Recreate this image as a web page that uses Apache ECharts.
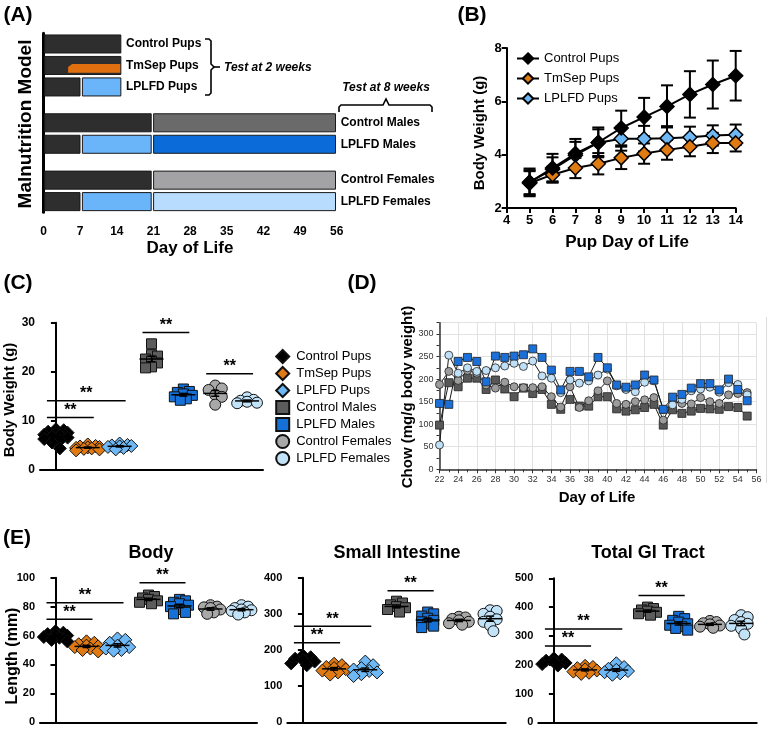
<!DOCTYPE html>
<html>
<head>
<meta charset="utf-8">
<script src="https://cdn.jsdelivr.net/npm/echarts@6/dist/echarts.min.js"></script>
<style>
  html, body { margin: 0; padding: 0; background: #fff; }
  #chart { width: 772px; height: 731px; }
</style>
</head>
<body>
<div id="chart"></div>
<script>
const FONT = '"Liberation Sans", Arial, sans-serif';

// ---- (A) study design timeline ----
const aRows = ['Control Pups', 'TmSep Pups', 'LPLFD Pups', 'Control Males', 'LPLFD Males', 'Control Females', 'LPLFD Females'];
const aRowGroup = [0, 0, 0, 1, 1, 2, 2];
// [row, fromDay, toDay, diet]
const aSegments = [
  [0, 0, 15, 'dam'],
  [1, 0, 15, 'dam'],
  [1, 4.7, 15, 'sep'],
  [2, 0, 7.2, 'dam'],
  [2, 7.2, 15, 'lplfd'],
  [3, 0, 20.8, 'dam'],
  [3, 20.8, 56, 'ctrlM'],
  [4, 0, 7.2, 'dam'],
  [4, 7.2, 20.8, 'lplfd'],
  [4, 20.8, 56, 'lplfdM'],
  [5, 0, 20.8, 'dam'],
  [5, 20.8, 56, 'ctrlF'],
  [6, 0, 7.2, 'dam'],
  [6, 7.2, 20.8, 'lplfd'],
  [6, 20.8, 56, 'lplfdF']
];

// ---- (B) pup body weight ----
const bDays = [5, 6, 7, 8, 9, 10, 11, 12, 13, 14];
const bControl = [2.96, 3.5, 4.04, 4.46, 5.0, 5.41, 5.81, 6.26, 6.63, 6.96];
const bControlErr = [0.52, 0.53, 0.55, 0.56, 0.65, 0.72, 0.79, 0.87, 0.9, 0.93];
const bTmSep = [2.93, 3.25, 3.5, 3.66, 3.88, 4.04, 4.18, 4.3, 4.44, 4.44];
const bTmSepErr = [0.45, 0.3, 0.38, 0.4, 0.42, 0.38, 0.37, 0.36, 0.38, 0.32];
const bLplfd = [2.97, 3.45, 3.98, 4.45, 4.6, 4.6, 4.62, 4.65, 4.72, 4.75];
const bLplfdErr = [0.45, 0.45, 0.5, 0.5, 0.45, 0.48, 0.45, 0.4, 0.38, 0.38];

// ---- groups used in (C) and (E) ----
const groups = ['Control Pups', 'TmSep Pups', 'LPLFD Pups', 'Control Males', 'LPLFD Males', 'Control Females', 'LPLFD Females'];

// ---- (C) body weight at test ----
const cWeight = [
  [8.3, 8.1, 7.8, 7.6, 7.4, 7.2, 7.0, 6.8, 6.6, 6.3, 6.0, 5.6, 4.4],
  [5.2, 4.9, 4.8, 4.7, 4.6, 4.5, 4.4, 4.3, 4.2, 4.0],
  [5.4, 5.1, 5.0, 4.9, 4.8, 4.7, 4.5, 4.2],
  [25.7, 23.5, 23.2, 22.6, 22.2, 21.8, 21.0, 20.8],
  [16.5, 16.0, 15.8, 15.5, 15.2, 14.9, 14.5, 14.2],
  [17.2, 16.6, 16.3, 15.3, 14.9, 13.3],
  [14.8, 14.3, 14.1, 13.9, 13.7, 13.6]
];
const cSig = [[0, 1, 10.7], [0, 2, 14.1], [3, 4, 28.0], [5, 6, 19.6]];

// ---- (D) chow intake ----
const dDays = [22, 23, 24, 25, 26, 27, 28, 29, 30, 31, 32, 33, 34, 35, 36, 37, 38, 39, 40, 41, 42, 43, 44, 45, 46, 47, 48, 49, 50, 51, 52, 53, 54, 55];
const dControlMales = [98, 192, 183, 202, 202, 177, 198, 178, 161, 180, 168, 177, 144, 133, 155, 140, 140, 161, 161, 134, 129, 132, 137, 144, 98, 132, 124, 129, 135, 134, 133, 139, 137, 118];
const dControlFemales = [188, 217, 197, 219, 213, 187, 180, 193, 183, 181, 181, 183, 161, 138, 183, 137, 152, 174, 196, 146, 144, 150, 154, 159, 109, 150, 146, 145, 159, 150, 146, 165, 168, 170];
const dLplfdFemales = [54, 253, 213, 225, 217, 219, 225, 229, 235, 228, 240, 207, 202, 170, 198, 191, 196, 209, 222, 185, 177, 172, 193, 196, 132, 143, 155, 174, 178, 182, 171, 192, 188, 165];
const dLplfdMales = [146, 144, 239, 248, 239, 194, 251, 248, 251, 254, 267, 248, 220, 176, 217, 217, 205, 248, 225, 187, 182, 187, 209, 198, 133, 160, 166, 180, 190, 190, 176, 200, 177, 152];

// ---- (E) lengths ----
const eBody = [
  [63, 62, 61, 60.5, 60, 59, 58.5, 57, 56],
  [56, 55, 54, 53, 52.5, 52, 51, 50, 49],
  [58, 57, 55, 53, 52, 51, 50, 49.5],
  [88, 87, 86, 85, 84, 83, 82],
  [85, 84, 83, 82, 81, 80, 78, 76, 75],
  [81, 80, 79.5, 79, 78, 76, 75],
  [81, 80, 79, 78, 77.5, 77, 76, 74.5]
];
const eBodySig = [[0, 1, 71.2], [0, 2, 82.7], [3, 4, 96.5]];
const eSmall = [
  [185, 180, 176, 172, 168, 163, 158],
  [162, 158, 153, 150, 147, 143, 138, 132],
  [168, 158, 150, 146, 142, 138, 133, 128],
  [335, 330, 325, 320, 317, 312, 305],
  [305, 300, 294, 288, 282, 278, 272, 266, 262],
  [292, 290, 286, 282, 278, 274, 270],
  [310, 308, 300, 292, 285, 278, 268, 252]
];
const eSmallSig = [[0, 1, 220], [0, 2, 266], [3, 4, 364]];
const eTotal = [
  [222, 218, 214, 210, 206, 202, 197],
  [196, 192, 188, 184, 180, 176, 172, 168],
  [205, 192, 186, 182, 178, 174, 170, 165],
  [400, 395, 390, 386, 382, 377, 372],
  [368, 360, 354, 348, 342, 337, 332, 326, 320],
  [352, 348, 344, 340, 336, 332, 328],
  [372, 365, 355, 348, 342, 335, 325, 305]
];
const eTotalSig = [[0, 1, 265], [0, 2, 324], [3, 4, 440]];

// ---- styles ----
const dietColor = {
  dam: '#2e2e2e', sep: '#e0700f', lplfd: '#6ab4fa', ctrlM: '#6a6a6a',
  lplfdM: '#0b6bd8', ctrlF: '#a3a3a6', lplfdF: '#b8dcfd'
};
const groupStyle = [
  { symbol: 'diamond', color: '#000000', size: 13 },
  { symbol: 'diamond', color: '#e07a12', size: 13 },
  { symbol: 'diamond', color: '#6db8f5', size: 13 },
  { symbol: 'rect', color: '#5c5c5c', size: 10 },
  { symbol: 'rect', color: '#1570d8', size: 10 },
  { symbol: 'circle', color: '#a8a8a8', size: 11 },
  { symbol: 'circle', color: '#c2e2f8', size: 11 }
];

const chart = echarts.init(document.getElementById('chart'));

// row slot on the timeline axis, with a wider gap between groups
const rowSlot = r => r + aRowGroup[r] * 0.67;
const lastSegOfRow = {};
aSegments.forEach((s, i) => { lastSegOfRow[s[0]] = i; });

function renderTimeline(params, api) {
  const seg = aSegments[params.dataIndex];
  const slot = api.value(1);
  const a = api.coord([api.value(0), slot]);
  const b = api.coord([api.value(2), slot]);
  const h = api.size([0, 0.84])[1];
  const top = a[1] - h / 2;
  const children = [];
  if (seg[3] === 'sep') {
    const x0 = a[0], x1 = b[0] - 1.8, y0 = top + h * 0.42, y1 = top + h - 1.8;
    children.push({
      type: 'polygon',
      shape: { points: [[x0, y1], [x0, y0 + 3], [x0 + 4, y0], [x1, y0], [x1, y1]] },
      style: { fill: dietColor.sep }
    });
  } else {
    children.push({
      type: 'rect',
      shape: { x: a[0] + 1.2, y: top, width: b[0] - a[0] - 2.4, height: h },
      style: { fill: dietColor[seg[3]], stroke: '#1a1a1a', lineWidth: 1 }
    });
  }
  if (lastSegOfRow[seg[0]] === params.dataIndex) {
    children.push({
      type: 'text', x: b[0] + 4, y: a[1],
      style: { text: aRows[seg[0]], font: 'bold 12px ' + FONT, fill: '#000', align: 'left', verticalAlign: 'middle' }
    });
  }
  return { type: 'group', children };
}

function errRender(cap) {
  return (params, api) => {
    const lo = api.coord([api.value(0), api.value(1)]);
    const hi = api.coord([api.value(0), api.value(2)]);
    const st = { stroke: '#000', lineWidth: 2 };
    return {
      type: 'group', children: [
        { type: 'line', shape: { x1: lo[0], y1: lo[1], x2: hi[0], y2: hi[1] }, style: st },
        { type: 'line', shape: { x1: lo[0] - cap, y1: lo[1], x2: lo[0] + cap, y2: lo[1] }, style: st },
        { type: 'line', shape: { x1: hi[0] - cap, y1: hi[1], x2: hi[0] + cap, y2: hi[1] }, style: st }
      ]
    };
  };
}

function meanRender(params, api) {
  const m = api.coord([api.value(0), api.value(1)]);
  const lo = api.coord([api.value(0), api.value(2)]);
  const hi = api.coord([api.value(0), api.value(3)]);
  const st = { stroke: '#000', lineWidth: 1.5 };
  return {
    type: 'group', children: [
      { type: 'line', shape: { x1: m[0] - 12, y1: m[1], x2: m[0] + 12, y2: m[1] }, style: st },
      { type: 'line', shape: { x1: lo[0], y1: lo[1], x2: hi[0], y2: hi[1] }, style: st },
      { type: 'line', shape: { x1: lo[0] - 4, y1: lo[1], x2: lo[0] + 4, y2: lo[1] }, style: st },
      { type: 'line', shape: { x1: hi[0] - 4, y1: hi[1], x2: hi[0] + 4, y2: hi[1] }, style: st }
    ]
  };
}

function sigRender(params, api) {
  const a = api.coord([api.value(0), api.value(2)]);
  const b = api.coord([api.value(1), api.value(2)]);
  const x0 = a[0] - 9, x1 = b[0] + 6;
  return {
    type: 'group', children: [
      { type: 'line', shape: { x1: x0, y1: a[1], x2: x1, y2: a[1] }, style: { stroke: '#000', lineWidth: 1.5 } },
      {
        type: 'text', x: (x0 + x1) / 2, y: a[1] + 1,
        style: { text: '**', font: 'bold 16px ' + FONT, fill: '#000', align: 'center', verticalAlign: 'bottom' }
      }
    ]
  };
}

// simple beeswarm: offsets (in category units) so dots spread sideways
function swarm(values, pxX, pxY, size) {
  const order = values.map((v, i) => i).sort((p, q) => values[q] - values[p]);
  const offs = new Array(values.length).fill(0);
  const placed = [];
  const step = size * 0.3;
  order.forEach(i => {
    const y = values[i] * pxY;
    let best = 0, bestScore = Infinity;
    for (let k = 0; k < 7; k++) {
      const dx = k === 0 ? 0 : (k % 2 ? 1 : -1) * Math.ceil(k / 2) * step;
      let overlap = 0;
      placed.forEach(p => {
        const d = Math.hypot(p.x - dx, p.y - y);
        if (d < size * 0.6) overlap += size * 0.6 - d;
      });
      const score = overlap * 10 + Math.abs(dx);
      if (score < bestScore) { bestScore = score; best = dx; }
    }
    placed.push({ x: best, y });
    offs[i] = best / pxX;
  });
  return offs;
}

const meanSem = vals => {
  const n = vals.length;
  const m = vals.reduce((s, v) => s + v, 0) / n;
  const sd = Math.sqrt(vals.reduce((s, v) => s + (v - m) * (v - m), 0) / (n - 1));
  return [m, sd / Math.sqrt(n)];
};

const grids = [
  { left: 43.5, top: 33.25, width: 293.2, height: 179.1 },
  { left: 506.7, top: 48, width: 229, height: 160 },
  { left: 40, top: 322.7, width: 223, height: 147.3 },
  { left: 439.5, top: 322.7, width: 317, height: 146.6 },
  { left: 40, top: 577.7, width: 217, height: 144.6 },
  { left: 287.3, top: 577.7, width: 218.4, height: 144.6 },
  { left: 538.3, top: 578.3, width: 218.4, height: 144 }
];

const blackLine = { show: true, lineStyle: { color: '#000', width: 2 } };
const blackTick = { show: true, length: 5, lineStyle: { color: '#000', width: 2 } };
const noSplit = { show: false };

const xAxes = [
  { gridIndex: 0, type: 'value', min: 0, max: 56, interval: 7, axisLine: { show: false }, axisTick: { show: false }, splitLine: noSplit,
    axisLabel: { color: '#000', fontWeight: 'bold', fontSize: 12, margin: 13 } },
  { gridIndex: 1, type: 'value', min: 4, max: 14, interval: 1, axisLine: blackLine, axisTick: blackTick, splitLine: noSplit,
    axisLabel: { color: '#000', fontWeight: 'bold', fontSize: 13, margin: 6 } },
  { gridIndex: 2, type: 'value', min: -0.5, max: 6.5, axisLine: blackLine, axisTick: { show: false }, axisLabel: { show: false }, splitLine: noSplit },
  { gridIndex: 3, type: 'value', min: 22, max: 56, interval: 2,
    axisLine: { show: true, lineStyle: { color: '#333', width: 1.5 } },
    axisTick: { show: true, length: 4, lineStyle: { color: '#333' } },
    minorTick: { show: true, splitNumber: 2, length: 3, lineStyle: { color: '#333' } },
    splitLine: { show: true, lineStyle: { color: '#e2e2e2', width: 1 } },
    axisLabel: { color: '#333', fontSize: 9, margin: 6 } },
  { gridIndex: 4, type: 'value', min: -0.5, max: 6.5, axisLine: blackLine, axisTick: { show: false }, axisLabel: { show: false }, splitLine: noSplit },
  { gridIndex: 5, type: 'value', min: -0.5, max: 6.5, axisLine: blackLine, axisTick: { show: false }, axisLabel: { show: false }, splitLine: noSplit },
  { gridIndex: 6, type: 'value', min: -0.5, max: 6.5, axisLine: blackLine, axisTick: { show: false }, axisLabel: { show: false }, splitLine: noSplit }
];

const boldY = (gi, min, max, interval, fs) => ({
  gridIndex: gi, type: 'value', min, max, interval, axisLine: blackLine, axisTick: blackTick, splitLine: noSplit,
  axisLabel: { color: '#000', fontWeight: 'bold', fontSize: fs, margin: 5 }
});

const yAxes = [
  { gridIndex: 0, type: 'value', inverse: true, min: -0.5, max: rowSlot(6) + 0.5, offset: 2,
    axisLine: { show: true, lineStyle: { color: '#000', width: 3 } }, axisTick: { show: false }, axisLabel: { show: false }, splitLine: noSplit },
  boldY(1, 2, 8, 2, 13),
  boldY(2, 0, 30, 10, 12),
  { gridIndex: 3, type: 'value', min: 0, max: 325, interval: 50,
    axisLine: { show: true, lineStyle: { color: '#333', width: 1.5 } },
    axisTick: { show: true, length: 3, lineStyle: { color: '#333' } },
    minorTick: { show: true, splitNumber: 2, length: 3, lineStyle: { color: '#333' } },
    splitLine: { show: true, lineStyle: { color: '#e2e2e2', width: 1 } },
    axisLabel: { color: '#333', fontSize: 9, margin: 6, showMaxLabel: false } },
  boldY(4, 0, 100, 20, 11),
  boldY(5, 0, 400, 100, 11),
  boldY(6, 0, 500, 100, 11)
];

const series = [];

// (A)
series.push({
  type: 'custom', name: 'timeline', xAxisIndex: 0, yAxisIndex: 0,
  renderItem: renderTimeline, encode: { x: [0, 2], y: 1 },
  data: aSegments.map(s => [s[1], rowSlot(s[0]), s[2]])
});

// (B)
const bSets = [
  { name: 'LPLFD Pups', mean: bLplfd, err: bLplfdErr, color: '#6db8f5' },
  { name: 'TmSep Pups', mean: bTmSep, err: bTmSepErr, color: '#e07a12' },
  { name: 'Control Pups', mean: bControl, err: bControlErr, color: '#000000' }
];
bSets.forEach((s, k) => {
  series.push({
    type: 'custom', name: 'errB' + k, xAxisIndex: 1, yAxisIndex: 1, z: 2,
    renderItem: errRender(6), encode: { x: 0, y: [1, 2] },
    data: bDays.map((d, i) => [d, s.mean[i] - s.err[i], s.mean[i] + s.err[i]])
  });
});
bSets.forEach(s => {
  series.push({
    type: 'line', name: s.name, xAxisIndex: 1, yAxisIndex: 1, z: 3,
    symbol: 'diamond', symbolSize: 14,
    lineStyle: { color: '#000', width: 2 },
    itemStyle: { color: s.color, borderColor: '#000', borderWidth: 1.5 },
    data: bDays.map((d, i) => [d, s.mean[i]])
  });
});

// dot plots (C, E)
function addDots(axisIdx, sets, sig, yMax, prefix) {
  const g = grids[axisIdx];
  const pxX = g.width / 7, pxY = g.height / yMax;
  sets.forEach((vals, i) => {
    const st = groupStyle[i];
    const offs = swarm(vals, pxX, pxY, st.size);
    series.push({
      type: 'scatter', name: prefix + '|' + groups[i], xAxisIndex: axisIdx, yAxisIndex: axisIdx, z: 2,
      symbol: st.symbol, symbolSize: st.size,
      itemStyle: { color: st.color, borderColor: '#111', borderWidth: 1, opacity: 1 },
      data: vals.map((v, j) => [i + offs[j], v])
    });
  });
  series.push({
    type: 'custom', name: prefix + '|mean', xAxisIndex: axisIdx, yAxisIndex: axisIdx, z: 4,
    renderItem: meanRender, encode: { x: 0, y: [1, 2, 3] },
    data: sets.map((vals, i) => { const [m, se] = meanSem(vals); return [i, m, m - se, m + se]; })
  });
  series.push({
    type: 'custom', name: prefix + '|sig', xAxisIndex: axisIdx, yAxisIndex: axisIdx, z: 4,
    renderItem: sigRender, encode: { x: [0, 1], y: 2 },
    data: sig
  });
}
addDots(2, cWeight, cSig, 30, 'C');
addDots(4, eBody, eBodySig, 100, 'E1');
addDots(5, eSmall, eSmallSig, 400, 'E2');
addDots(6, eTotal, eTotalSig, 500, 'E3');

// (D)
const dSets = [
  { name: 'D|Control Males', vals: dControlMales, symbol: 'rect', color: '#575757' },
  { name: 'D|Control Females', vals: dControlFemales, symbol: 'circle', color: '#9c9c9c' },
  { name: 'D|LPLFD Females', vals: dLplfdFemales, symbol: 'circle', color: '#bfe0f6' },
  { name: 'D|LPLFD Males', vals: dLplfdMales, symbol: 'rect', color: '#1a6fd8' }
];
dSets.forEach(s => {
  series.push({
    type: 'line', name: s.name, xAxisIndex: 3, yAxisIndex: 3,
    symbol: s.symbol, symbolSize: 8,
    lineStyle: { color: '#1a1a1a', width: 1 },
    itemStyle: { color: s.color, borderColor: '#222', borderWidth: 0.8 },
    data: dDays.map((d, i) => [d, s.vals[i]])
  });
});

const t = (x, y, text, font, extra) => Object.assign({
  type: 'text', x, y,
  style: { text, font: font + ' ' + FONT, fill: '#000', align: 'center', verticalAlign: 'middle' }
}, extra || {});
const rot = Math.PI / 2;
const braceStyle = { stroke: '#000', lineWidth: 1.6, fill: null };

const graphics = [
  t(18, 15, '(A)', 'bold 21px'),
  t(472, 15, '(B)', 'bold 21px'),
  t(18, 283, '(C)', 'bold 21px'),
  t(362, 283, '(D)', 'bold 21px'),
  t(17, 538, '(E)', 'bold 21px'),
  t(25.6, 124, 'Malnutrition Model', 'bold 19px', { rotation: rot }),
  t(190, 248, 'Day of Life', 'bold 17px'),
  { type: 'text', x: 224, y: 68, style: { text: 'Test at 2 weeks', font: 'italic bold 12px ' + FONT, fill: '#000', align: 'left', verticalAlign: 'middle' } },
  t(386, 88, 'Test at 8 weeks', 'italic bold 12px'),
  { type: 'polyline', shape: { points: [[205, 39], [209, 39], [211, 41], [211, 64], [214, 67], [211, 70], [211, 93], [209, 95], [205, 95]] }, style: braceStyle },
  { type: 'line', shape: { x1: 214, y1: 67, x2: 220, y2: 67 }, style: braceStyle },
  { type: 'polyline', shape: { points: [[339, 112], [339, 107], [341, 105], [383, 105], [386, 99], [389, 105], [430, 105], [432, 107], [432, 112]] }, style: braceStyle },
  t(480, 133, 'Body Weight (g)', 'bold 15px', { rotation: rot }),
  t(627, 242, 'Pup Day of Life', 'bold 17px'),
  t(10, 400, 'Body Weight (g)', 'bold 15px', { rotation: rot }),
  t(408, 397, 'Chow (mg/g body weight)', 'bold 15px', { rotation: rot }),
  t(597, 498, 'Day of Life', 'bold 15px'),
  { type: 'line', shape: { x1: 766.5, y1: 317, x2: 766.5, y2: 483 }, style: { stroke: '#dcdcdc', lineWidth: 1 } },
  t(151, 553, 'Body', 'bold 18px'),
  t(397, 553, 'Small Intestine', 'bold 18px'),
  t(648, 553, 'Total GI Tract', 'bold 18px'),
  t(12.5, 656, 'Length (mm)', 'bold 16px', { rotation: rot })
];

chart.setOption({
  animation: false,
  textStyle: { fontFamily: FONT },
  grid: grids,
  xAxis: xAxes,
  yAxis: yAxes,
  legend: [
    {
      data: ['Control Pups', 'TmSep Pups', 'LPLFD Pups'], orient: 'vertical', left: 511, top: 47,
      itemWidth: 22, itemHeight: 13, itemGap: 7, selectedMode: false,
      textStyle: { fontSize: 13, color: '#000' }
    },
    {
      data: groups.map(g => 'C|' + g), formatter: n => n.split('|')[1],
      orient: 'vertical', left: 270.2, top: 344, itemWidth: 13, itemHeight: 13, itemGap: 2, selectedMode: false,
      textStyle: { fontSize: 13, color: '#000', padding: [0, 0, 0, 2] }
    }
  ],
  graphic: graphics,
  series
});
</script>
</body>
</html>
